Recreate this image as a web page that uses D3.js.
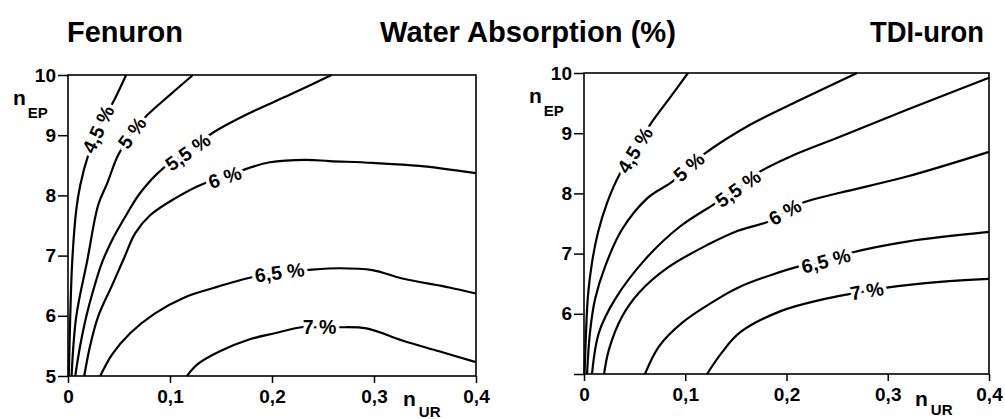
<!DOCTYPE html>
<html>
<head>
<meta charset="utf-8">
<title>Water Absorption</title>
<script src="https://cdn.jsdelivr.net/npm/d3@7"></script>
<style>
body { margin: 0; background: #fff; }
text { font-family: "Liberation Sans", Arial, Helvetica, sans-serif; font-weight: bold; fill: #000; }
</style>
</head>
<body>
<script>
// axis ticks
var xTicks = [0, 0.1, 0.2, 0.3, 0.4];
var xTickLabels = ["0", "0,1", "0,2", "0,3", "0,4"];
var yTicks = [5, 6, 7, 8, 9, 10];
var yTickLabelsFenuron = ["5", "6", "7", "8", "9", "10"];
var yTickLabelsTdi = ["", "6", "7", "8", "9", "10"];
var levels = ["4,5 %", "5 %", "5,5 %", "6 %", "6,5 %", "7 %"];

// Fenuron contours [nUR, nEP]
var fen45 = [[0.057,10],[0.0443,9.55],[0.0296,9.10],[0.0198,8.67],[0.012,8.17],[0.0081,7.76],[0.0042,6.92],[0.0022,5.99],[0.0008,5.0]];
var fen5 = [[0.1225,10],[0.1000,9.67],[0.0775,9.33],[0.0629,9.04],[0.0492,8.67],[0.0384,8.20],[0.0296,7.84],[0.0189,6.92],[0.0081,5.99],[0.0035,5.0]];
var fen55 = [[0.2584,10],[0.2173,9.67],[0.1782,9.37],[0.1420,9.04],[0.1176,8.72],[0.0932,8.45],[0.0707,8.04],[0.0570,7.67],[0.0433,7.26],[0.0335,6.89],[0.0247,6.42],[0.0179,5.99],[0.0120,5.51],[0.0071,5.0]];
var fen6 = [[0.4,8.37],[0.3444,8.49],[0.2984,8.54],[0.2564,8.57],[0.2339,8.59],[0.1978,8.55],[0.1714,8.42],[0.1538,8.30],[0.1323,8.19],[0.1049,7.95],[0.0805,7.67],[0.0658,7.37],[0.0550,6.96],[0.0433,6.51],[0.0296,5.99],[0.0218,5.51],[0.0159,5.0]];
var fen65 = [[0.0316,5.0],[0.0433,5.36],[0.0609,5.71],[0.0853,6.04],[0.1147,6.31],[0.1440,6.47],[0.1802,6.64],[0.2075,6.72],[0.2339,6.76],[0.2662,6.79],[0.2984,6.76],[0.3277,6.62],[0.3737,6.47],[0.4,6.37]];
var fen7 = [[0.1166,5.0],[0.1274,5.2],[0.1489,5.41],[0.1782,5.61],[0.2026,5.71],[0.2290,5.81],[0.2466,5.81],[0.2642,5.81],[0.2926,5.79],[0.3277,5.59],[0.3639,5.41],[0.4,5.23]];
var fenLabelAt = [[0.0296,9.10],[0.0629,9.04],[0.1176,8.72],[0.1538,8.30],[0.2075,6.72],[0.2466,5.81]];

// TDI-uron contours [nUR, nEP]
var tdi45 = [[0.1027,10],[0.0849,9.59],[0.0652,9.14],[0.0504,8.72],[0.0356,8.33],[0.0227,7.84],[0.0138,7.35],[0.0079,6.85],[0.0040,6.32],[0.0020,5.69],[0.0005,5.0]];
var tdi5 = [[0.2696,10],[0.2133,9.55],[0.1640,9.14],[0.1175,8.64],[0.1037,8.44],[0.0869,8.19],[0.0632,7.93],[0.0375,7.40],[0.0207,6.78],[0.0109,6.24],[0.0059,5.69],[0.0030,5.0]];
var tdi55 = [[0.4,9.92],[0.319,9.39],[0.2528,8.94],[0.2035,8.61],[0.1738,8.36],[0.1521,8.08],[0.1274,7.81],[0.0948,7.45],[0.0602,6.90],[0.0306,6.24],[0.0148,5.69],[0.0079,5.0]];
var tdi6 = [[0.4,8.69],[0.319,8.28],[0.2528,8.01],[0.2153,7.84],[0.1985,7.69],[0.1817,7.53],[0.1521,7.38],[0.1225,7.15],[0.083,6.77],[0.0543,6.35],[0.0375,5.95],[0.0247,5.41],[0.0198,5.0]];
var tdi65 = [[0.4,7.36],[0.319,7.20],[0.2627,7.01],[0.239,6.88],[0.2153,6.80],[0.1857,6.65],[0.1541,6.45],[0.1363,6.29],[0.0968,5.85],[0.0741,5.46],[0.0602,5.0]];
var tdi7 = [[0.4,6.58],[0.3516,6.53],[0.2973,6.43],[0.2795,6.38],[0.2627,6.33],[0.2360,6.24],[0.1936,6.04],[0.1541,5.69],[0.1363,5.36],[0.1215,5.0]];
var tdiLabelAt = [[0.0504,8.72],[0.1037,8.44],[0.1521,8.08],[0.1985,7.69],[0.239,6.88],[0.2795,6.38]];

var width = 1005, height = 419;
var svg = d3.select("body").append("svg").attr("width", width).attr("height", height);

// titles
svg.append("text").attr("x", 67).attr("y", 42).attr("font-size", 29)
	.attr("textLength", 116).attr("lengthAdjust", "spacingAndGlyphs").text("Fenuron");
svg.append("text").attr("x", 380).attr("y", 42).attr("font-size", 29)
	.attr("textLength", 296).attr("lengthAdjust", "spacingAndGlyphs").text("Water Absorption (%)");
svg.append("text").attr("x", 870).attr("y", 42).attr("font-size", 29)
	.attr("textLength", 114).attr("lengthAdjust", "spacingAndGlyphs").text("TDI-uron");

function drawPanel(p) {
	var x = d3.scaleLinear().domain([0, 0.4]).range([p.left, p.right]);
	var y = d3.scaleLinear().domain([5, 10]).range([p.bottom, p.top]);

	var xAxis = svg.append("g").attr("transform", "translate(0," + p.bottom + ")")
		.call(d3.axisBottom(x).tickValues(xTicks).tickSize(7).tickSizeOuter(0).tickPadding(3)
			.tickFormat(function(d, i) { return xTickLabels[i]; }));
	var yAxis = svg.append("g").attr("transform", "translate(" + p.left + ",0)")
		.call(d3.axisLeft(y).tickValues(yTicks).tickSize(10).tickSizeOuter(0).tickPadding(2)
			.tickFormat(function(d, i) { return p.yLabels[i]; }));
	[xAxis, yAxis].forEach(function(a) {
		a.select(".domain").remove();
		a.selectAll("line").attr("stroke", "#000").attr("stroke-width", 1.5);
		a.selectAll("text").attr("font-size", 19).attr("font-family", null).attr("fill", "#000");
	});
	xAxis.selectAll("text").attr("dy", "0.88em");

	// frame
	svg.append("rect").attr("x", p.left).attr("y", p.top)
		.attr("width", p.right - p.left).attr("height", p.bottom - p.top)
		.attr("fill", "none").attr("stroke", "#000").attr("stroke-width", 1.6);

	var line = d3.line().x(function(d) { return x(d[0]); }).y(function(d) { return y(d[1]); })
		.curve(d3.curveCatmullRom.alpha(0.5));

	svg.append("g").selectAll("path").data(p.lines).enter().append("path")
		.attr("d", line).attr("fill", "none").attr("stroke", "#000")
		.attr("stroke-width", 2.2).attr("stroke-linejoin", "round");

	// labels sit on the line, white halo cuts the line
	p.lines.forEach(function(pts, i) {
		var at = p.labelAt[i];
		var k = d3.minIndex(pts, function(d) { return Math.hypot(d[0] - at[0], d[1] - at[1]); });
		var a = pts[Math.max(k - 1, 0)], b = pts[Math.min(k + 1, pts.length - 1)];
		var ang = Math.atan2(y(b[1]) - y(a[1]), x(b[0]) - x(a[0])) * 180 / Math.PI;
		if (ang > 90) ang -= 180;
		if (ang < -90) ang += 180;
		svg.append("text")
			.attr("transform", "translate(" + x(at[0]) + "," + y(at[1]) + ") rotate(" + ang + ")")
			.attr("text-anchor", "middle").attr("dy", "0.35em").attr("font-size", 19.5)
			.attr("stroke", "#fff").attr("stroke-width", 7).attr("paint-order", "stroke")
			.text(levels[i]);
	});

	// axis titles n_EP and n_UR
	var ty = svg.append("text").attr("x", p.left - 55).attr("y", p.top + 30).attr("font-size", 21);
	ty.append("tspan").text("n");
	ty.append("tspan").attr("font-size", 15).attr("dx", 2).attr("dy", 13).text("EP");
	var tx = svg.append("text").attr("x", p.uRx).attr("y", p.bottom + p.uRy).attr("font-size", 21);
	tx.append("tspan").text("n");
	tx.append("tspan").attr("font-size", 15).attr("dx", 3).attr("dy", p.uRsub).text("UR");
}

drawPanel({left: 68, right: 476, top: 75, bottom: 376, yLabels: yTickLabelsFenuron,
	lines: [fen45, fen5, fen55, fen6, fen65, fen7], labelAt: fenLabelAt, uRx: 403, uRy: 30, uRsub: 11});
drawPanel({left: 584, right: 989, top: 73, bottom: 374, yLabels: yTickLabelsTdi,
	lines: [tdi45, tdi5, tdi55, tdi6, tdi65, tdi7], labelAt: tdiLabelAt, uRx: 915, uRy: 32, uRsub: 9});
</script>
</body>
</html>
